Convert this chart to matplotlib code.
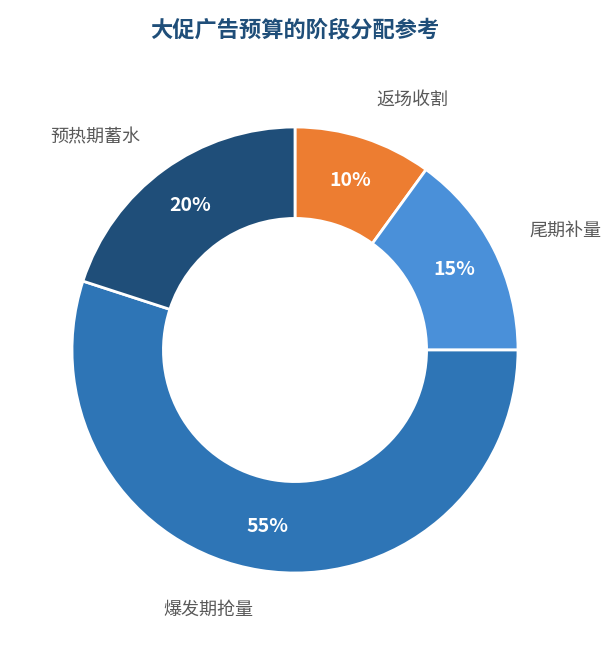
import matplotlib.pyplot as plt

plt.rcParams['font.family'] = ['Noto Sans CJK SC', 'DejaVu Sans']

# data, clockwise from 12 o'clock
stages = ["返场收割", "尾期补量", "爆发期抢量", "预热期蓄水"]
shares = [10, 15, 55, 20]
colors = ["#ed7d31", "#4a90d9", "#2e75b6", "#1f4e79"]

fig = plt.figure(figsize=(6.13, 6.45), dpi=100)
cx, cy, r = 295, 350, 223
ax = fig.add_axes([(cx - r) / 613, (645 - cy - r) / 645, 2 * r / 613, 2 * r / 645])

wedges, texts, autotexts = ax.pie(
    shares, labels=stages, colors=colors, startangle=90, counterclock=False,
    radius=1.0, labeldistance=1.18, pctdistance=0.8,
    autopct=lambda p: f"{p:.0f}%",
    wedgeprops=dict(width=0.41, edgecolor="white", linewidth=2),
    textprops=dict(fontsize=13, color="#595959"),
)
for t in autotexts:
    t.set_color("white")
    t.set_fontsize(14)
    t.set_fontweight("bold")
ax.set_xlim(-1, 1)
ax.set_ylim(-1, 1)
ax.set_aspect("equal")
ax.axis("off")

fig.text(0.481, 1 - 30 / 645, "大促广告预算的阶段分配参考", ha="center", va="center",
         fontsize=16, fontweight="bold", color="#1f4e79")

fig.savefig("out.png", dpi=100)
